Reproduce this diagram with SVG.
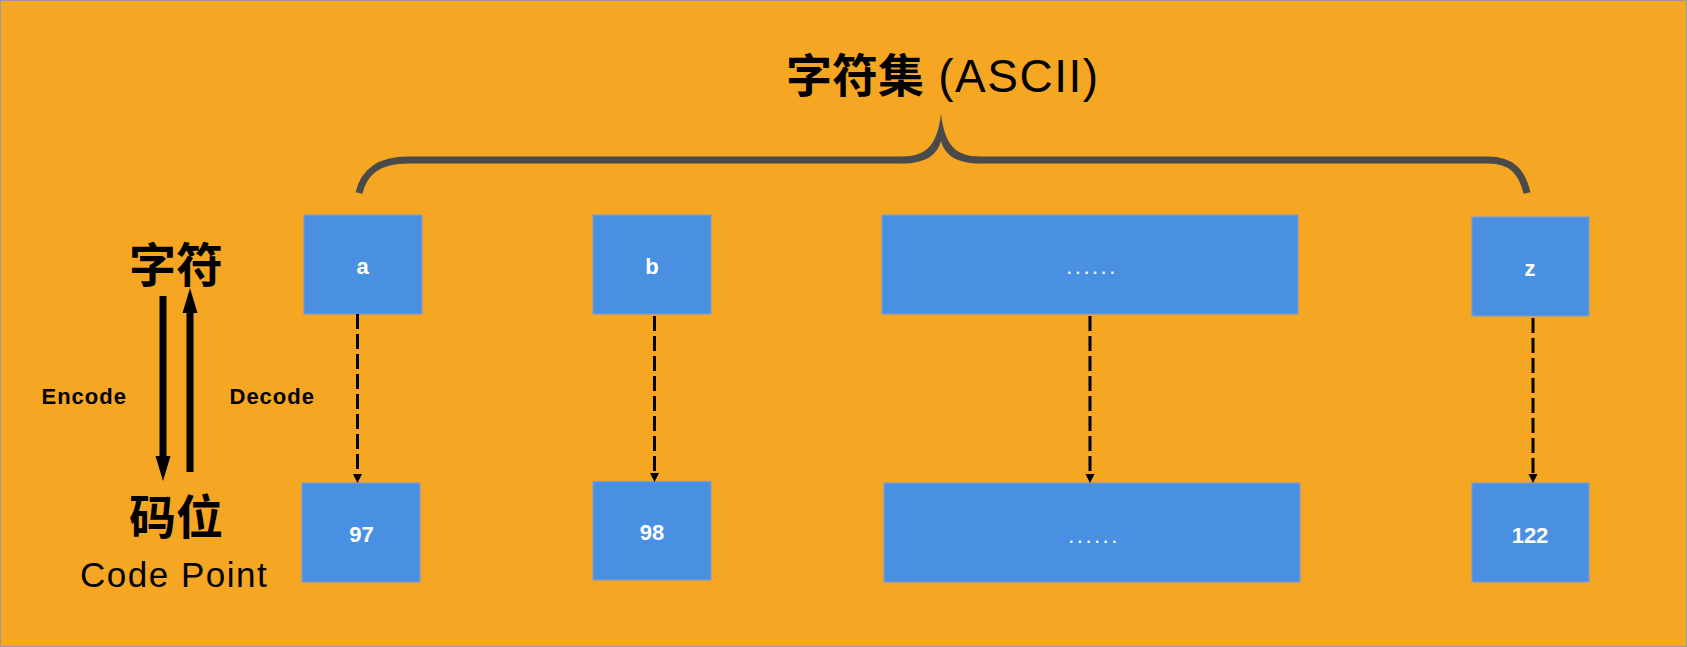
<svg xmlns="http://www.w3.org/2000/svg" width="1687" height="647" viewBox="0 0 1687 647">
<style>
.box{fill:#4A90E2;stroke:#7f9ccc;stroke-width:1.2}
.bt{font-family:"Liberation Sans",Arial,sans-serif;font-size:22px;font-weight:bold;fill:#ffffff;text-anchor:middle}
.dots{font-family:"Liberation Sans",Arial,sans-serif;font-size:22px;fill:#ffffff;text-anchor:middle;letter-spacing:2.5px}
.cjk{font-family:"Noto Sans CJK SC","Noto Sans",sans-serif;font-weight:bold;fill:#000000}
.lbl{font-family:"Liberation Sans",Arial,sans-serif;font-size:22px;font-weight:bold;fill:#000000;letter-spacing:1px}
.dash{stroke:#000000;stroke-width:3;stroke-dasharray:15 5;fill:none}
.main{stroke:#000000;stroke-width:7;fill:none}
.brace{fill:none;stroke:#4a4a4a;stroke-width:7}
</style>
<defs>
<marker id="sm" markerUnits="userSpaceOnUse" markerWidth="12" markerHeight="12" refX="0" refY="0" viewBox="-1 -6 12 12" orient="auto" overflow="visible">
<path d="M0,-4.5 L9,0 L0,4.5 z" fill="#000000"/>
</marker>
<marker id="big" markerUnits="userSpaceOnUse" markerWidth="30" markerHeight="20" refX="0" refY="0" viewBox="-1 -10 30 20" orient="auto" overflow="visible">
<path d="M0,-7.5 L25,0 L0,7.5 z" fill="#000000"/>
</marker>
</defs>
<rect x="0.5" y="0.5" width="1686" height="646" fill="#F5A623" stroke="#9a9a9a" stroke-width="1"/>

<g id="title">
<text x="786" y="92" font-size="46"><tspan class="cjk">字符集</tspan><tspan font-family="Liberation Sans,Arial,sans-serif" fill="#000000" letter-spacing="1.5"> (ASCII)</tspan></text>
</g>

<g id="brace">
<path class="brace" d="M359,193 C364,172 378,160 408,160 L903,160"/>
<path class="brace" d="M979,160 L1488,160 C1512,160 1522,172 1527,193"/>
<path d="M902,156.5 C926,156.5 937,146 941,114 C945,146 956,156.5 980,156.5 L980,163.5 C958,163.5 945,156 941,141 C937,156 924,163.5 902,163.5 Z" fill="#4a4a4a"/>
</g>

<g id="left-labels">
<text class="cjk" x="176" y="282" font-size="47" text-anchor="middle">字符</text>
<text class="cjk" x="176" y="534" font-size="47" text-anchor="middle">码位</text>
<text x="80" y="587" font-family="Liberation Sans,Arial,sans-serif" font-size="35" letter-spacing="1.5" fill="#000000">Code Point</text>
<text class="lbl" x="41.5" y="403.5">Encode</text>
<text class="lbl" x="229.5" y="403.5">Decode</text>
</g>

<g id="node-a"><rect class="box" x="304" y="215" width="118" height="99"/><text class="bt" x="362.5" y="274">a</text></g>
<g id="node-b"><rect class="box" x="593" y="215" width="118" height="99"/><text class="bt" x="652" y="274">b</text></g>
<g id="node-dots-top"><rect class="box" x="882" y="215" width="416" height="99"/><text class="dots" x="1092" y="274">......</text></g>
<g id="node-z"><rect class="box" x="1472" y="217" width="117" height="99"/><text class="bt" x="1530" y="276">z</text></g>

<g id="node-97"><rect class="box" x="302" y="483" width="118" height="99"/><text class="bt" x="361.5" y="541.5">97</text></g>
<g id="node-98"><rect class="box" x="593" y="481.5" width="118" height="98.5"/><text class="bt" x="652" y="540">98</text></g>
<g id="node-dots-bottom"><rect class="box" x="884" y="483" width="416" height="99"/><text class="dots" x="1094" y="543">......</text></g>
<g id="node-122"><rect class="box" x="1472" y="483" width="117" height="99"/><text class="bt" x="1530" y="543">122</text></g>

<g id="connectors">
<line class="main" x1="163" y1="296" x2="163" y2="456" marker-end="url(#big)"/>
<line class="main" x1="190" y1="472" x2="190" y2="313" marker-end="url(#big)"/>
<line class="dash" x1="357.5" y1="314" x2="357.5" y2="474" marker-end="url(#sm)"/>
<line class="dash" x1="654.5" y1="316" x2="654.5" y2="473" marker-end="url(#sm)"/>
<line class="dash" x1="1090" y1="316" x2="1090" y2="474" marker-end="url(#sm)"/>
<line class="dash" x1="1533" y1="318" x2="1533" y2="474" marker-end="url(#sm)"/>
</g>
</svg>
